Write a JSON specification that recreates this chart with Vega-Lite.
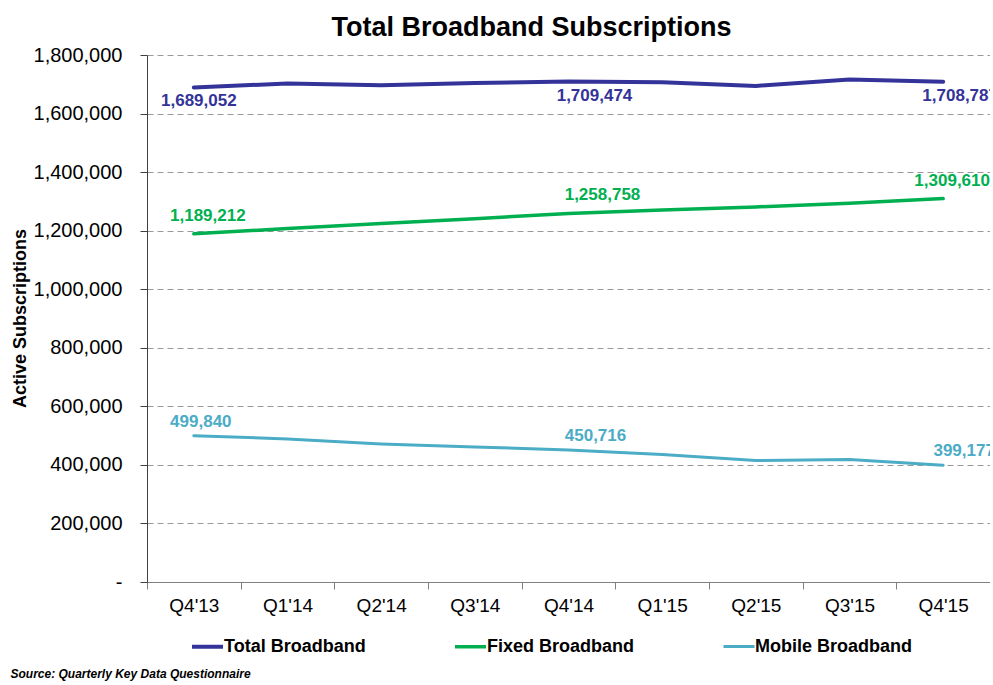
{
  "$schema": "https://vega.github.io/schema/vega-lite/v6.json",
  "autosize": "none",
  "width": 843,
  "height": 527,
  "padding": {"left": 147, "top": 55, "right": 0, "bottom": 103},
  "background": "white",
  "config": {
    "font": "Liberation Sans",
    "view": {"stroke": null}
  },
  "title": {
    "text": "Total Broadband Subscriptions",
    "fontSize": 27,
    "fontWeight": "bold",
    "color": "black",
    "anchor": "middle",
    "frame": "group",
    "dx": -37,
    "offset": 3
  },
  "data": {
    "values": [
      {"quarter": "Q4'13", "series": "Total Broadband", "value": 1689052},
      {"quarter": "Q1'14", "series": "Total Broadband", "value": 1702700},
      {"quarter": "Q2'14", "series": "Total Broadband", "value": 1697000},
      {"quarter": "Q3'14", "series": "Total Broadband", "value": 1704000},
      {"quarter": "Q4'14", "series": "Total Broadband", "value": 1709474},
      {"quarter": "Q1'15", "series": "Total Broadband", "value": 1707000},
      {"quarter": "Q2'15", "series": "Total Broadband", "value": 1694500},
      {"quarter": "Q3'15", "series": "Total Broadband", "value": 1716000},
      {"quarter": "Q4'15", "series": "Total Broadband", "value": 1708787},
      {"quarter": "Q4'13", "series": "Fixed Broadband", "value": 1189212},
      {"quarter": "Q1'14", "series": "Fixed Broadband", "value": 1207300},
      {"quarter": "Q2'14", "series": "Fixed Broadband", "value": 1224400},
      {"quarter": "Q3'14", "series": "Fixed Broadband", "value": 1241000},
      {"quarter": "Q4'14", "series": "Fixed Broadband", "value": 1258758},
      {"quarter": "Q1'15", "series": "Fixed Broadband", "value": 1270400},
      {"quarter": "Q2'15", "series": "Fixed Broadband", "value": 1281000},
      {"quarter": "Q3'15", "series": "Fixed Broadband", "value": 1294000},
      {"quarter": "Q4'15", "series": "Fixed Broadband", "value": 1309610},
      {"quarter": "Q4'13", "series": "Mobile Broadband", "value": 499840},
      {"quarter": "Q1'14", "series": "Mobile Broadband", "value": 488600},
      {"quarter": "Q2'14", "series": "Mobile Broadband", "value": 471600},
      {"quarter": "Q3'14", "series": "Mobile Broadband", "value": 461400},
      {"quarter": "Q4'14", "series": "Mobile Broadband", "value": 450716},
      {"quarter": "Q1'15", "series": "Mobile Broadband", "value": 435200},
      {"quarter": "Q2'15", "series": "Mobile Broadband", "value": 414800},
      {"quarter": "Q3'15", "series": "Mobile Broadband", "value": 418200},
      {"quarter": "Q4'15", "series": "Mobile Broadband", "value": 399177}
    ]
  },
  "encoding": {
    "x": {
      "field": "quarter",
      "type": "ordinal",
      "sort": null,
      "scale": {"type": "band", "paddingInner": 0, "paddingOuter": 0},
      "axis": {
        "title": "Source: Quarterly Key Data Questionnaire",
        "titleFontSize": 12,
        "titleFontWeight": "bold",
        "titleFontStyle": "italic",
        "titleColor": "black",
        "titleX": -137,
        "titleY": 91,
        "titleAlign": "left",
        "titleBaseline": "middle",
        "labelAngle": 0,
        "labelFontSize": 19,
        "labelColor": "black",
        "labelPadding": 7,
        "tickBand": "extent",
        "tickSize": 7,
        "tickColor": "#808080",
        "domainColor": "#808080",
        "grid": false
      }
    },
    "y": {
      "field": "value",
      "type": "quantitative",
      "scale": {"domain": [0, 1800000], "nice": false},
      "axis": {
        "title": "Active Subscriptions",
        "titleFontSize": 18,
        "titleFontWeight": "bold",
        "titleColor": "black",
        "titleX": -127,
        "titleY": 263,
        "titleAngle": 270,
        "titleAlign": "center",
        "titleBaseline": "middle",
        "values": [0, 200000, 400000, 600000, 800000, 1000000, 1200000, 1400000, 1600000, 1800000],
        "labelExpr": "datum.value === 0 ? '-\u00a0\u00a0' : format(datum.value, ',')",
        "labelFontSize": 20,
        "labelColor": "black",
        "labelPadding": 18,
        "tickSize": 7,
        "tickColor": "#404040",
        "domainColor": "#404040",
        "grid": true,
        "gridColor": "#999999",
        "gridDash": [6, 4],
        "gridWidth": 1
      }
    },
    "color": {
      "field": "series",
      "type": "nominal",
      "sort": null,
      "scale": {
        "domain": ["Total Broadband", "Fixed Broadband", "Mobile Broadband"],
        "range": ["#333399", "#00B050", "#4BACC6"]
      },
      "legend": {
        "title": null,
        "orient": "none",
        "direction": "horizontal",
        "legendX": 43,
        "legendY": 574,
        "symbolType": "stroke",
        "symbolSize": 961,
        "symbolStrokeWidth": 5,
        "labelFontSize": 18,
        "labelFontWeight": "bold",
        "labelColor": "black",
        "labelOffset": -1,
        "columnPadding": 82,
        "labelLimit": 300
      }
    }
  },
  "layer": [
    {
      "mark": {"type": "line", "strokeCap": "round"},
      "encoding": {
        "strokeWidth": {
          "field": "series",
          "type": "nominal",
          "scale": {
            "domain": ["Total Broadband", "Fixed Broadband", "Mobile Broadband"],
            "range": [4, 3, 3.5]
          },
          "legend": null
        }
      }
    },
    {
      "transform": [
        {"filter": "datum.quarter === \"Q4'13\" || datum.quarter === \"Q4'14\" || datum.quarter === \"Q4'15\""}
      ],
      "mark": {
        "type": "text",
        "fontSize": 17,
        "fontWeight": "bold",
        "align": "center",
        "baseline": "middle",
        "dx": {"expr": "datum.quarter === \"Q4'13\" ? (datum.series === 'Total Broadband' ? 5 : datum.series === 'Fixed Broadband' ? 14 : 7) : datum.quarter === \"Q4'14\" ? (datum.series === 'Total Broadband' ? 26 : datum.series === 'Fixed Broadband' ? 34 : 27) : (datum.series === 'Total Broadband' ? 17 : datum.series === 'Fixed Broadband' ? 9 : 21)"},
        "dy": {"expr": "datum.series === 'Total Broadband' ? 14 : datum.series === 'Fixed Broadband' ? -18 : -14"}
      },
      "encoding": {
        "text": {"field": "value", "type": "quantitative", "format": ","}
      }
    }
  ]
}
